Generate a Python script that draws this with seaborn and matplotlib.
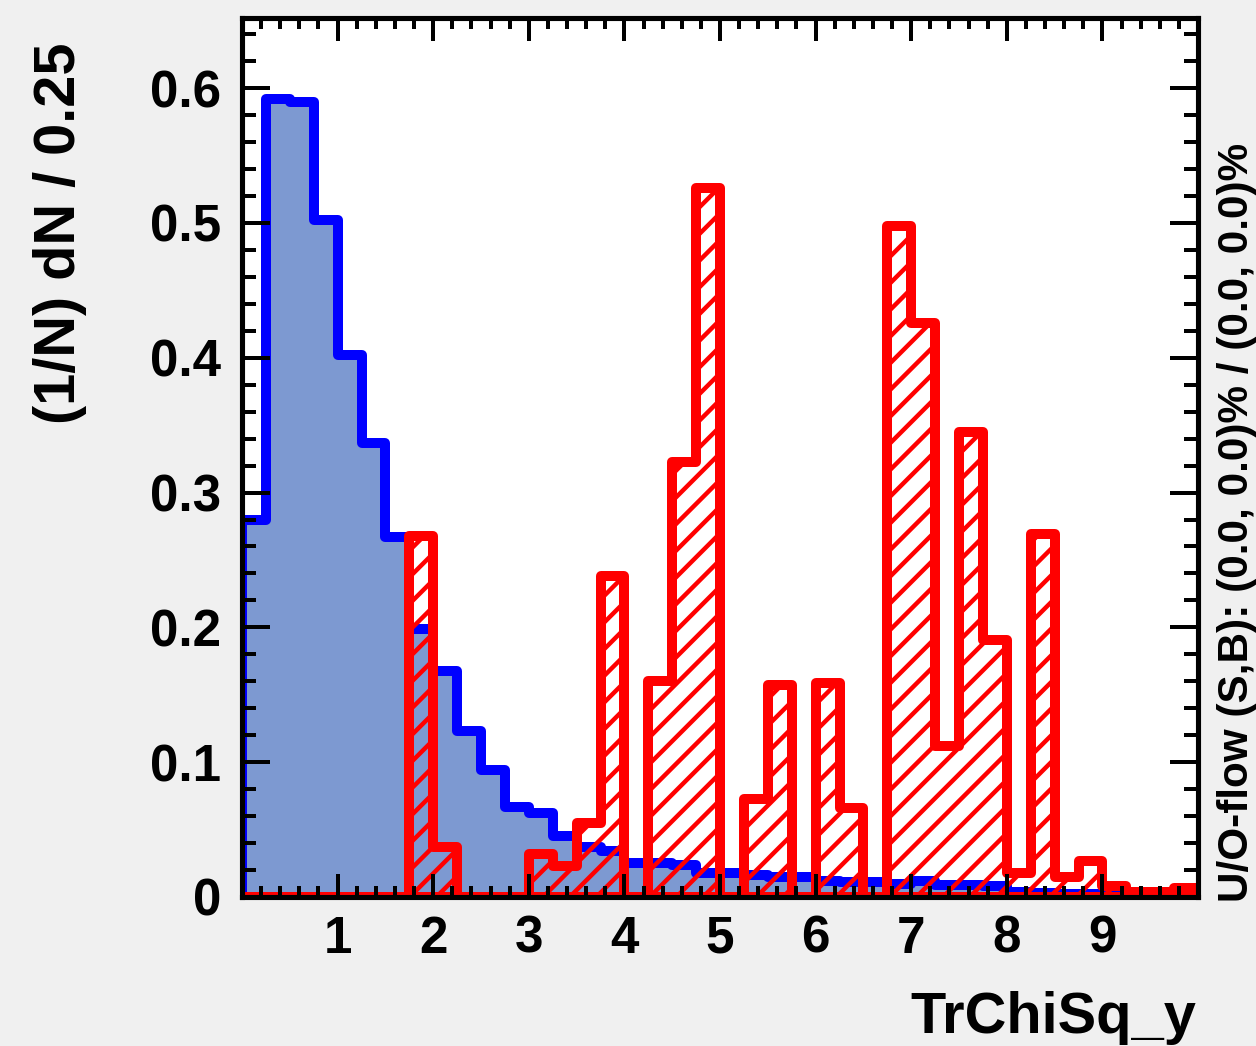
import numpy as np
import pandas as pd
import matplotlib
matplotlib.use("Agg")
import matplotlib.pyplot as plt
from matplotlib.ticker import MultipleLocator, FixedLocator, FuncFormatter
import seaborn as sns

# ---- data ----
bin_lo, bin_hi, n_bins = 0.0, 10.0, 40   # bin width 0.25
background = [0.280, 0.592, 0.590, 0.502, 0.402, 0.337, 0.267, 0.199, 0.168, 0.123,
              0.094, 0.067, 0.062, 0.045, 0.037, 0.034, 0.025, 0.025, 0.024, 0.018,
              0.018, 0.016, 0.015, 0.015, 0.012, 0.011, 0.011, 0.010, 0.012, 0.009,
              0.009, 0.008, 0.004, 0.003, 0.002, 0.002, 0.001, 0.001, 0.001, 0.001]
signal = [0.0, 0.0, 0.0, 0.0, 0.0, 0.0, 0.0, 0.268, 0.037, 0.0,
          0.0, 0.0, 0.032, 0.023, 0.055, 0.238, 0.0, 0.160, 0.323, 0.526,
          0.0, 0.073, 0.157, 0.0, 0.159, 0.066, 0.0, 0.498, 0.426, 0.112,
          0.345, 0.191, 0.018, 0.269, 0.015, 0.027, 0.008, 0.004, 0.004, 0.007]
x_ticks = [1, 2, 3, 4, 5, 6, 7, 8, 9]
y_ticks = [0.0, 0.1, 0.2, 0.3, 0.4, 0.5, 0.6]
x_title = "TrChiSq_y"
y_title = "(1/N) dN / 0.25"
flow_text = "U/O-flow (S,B): (0.0, 0.0)% / (0.0, 0.0)%"

edges = np.linspace(bin_lo, bin_hi, n_bins + 1)
centers = 0.5 * (edges[:-1] + edges[1:])
df = pd.DataFrame({"x": centers, "bkg": background, "sig": signal})

# ---- style ----
plt.rcParams['font.family'] = ['Liberation Sans', 'DejaVu Sans']
plt.rcParams['font.weight'] = 'bold'
plt.rcParams['hatch.linewidth'] = 2.0

DPI = 160
fig = plt.figure(figsize=(1256 / DPI, 1046 / DPI), dpi=DPI)
fig.patch.set_facecolor('#f0f0f0')
ax = fig.add_axes([242 / 1256, 1 - 897 / 1046, (1198 - 242) / 1256, (897 - 18) / 1046])
ax.set_facecolor('white')

sns.histplot(data=df, x="x", weights="bkg", bins=n_bins, binrange=(bin_lo, bin_hi),
             element="step", fill=True, color="#0000ff",
             facecolor="#7d99d1", edgecolor="#0000ff", linewidth=4.5, alpha=1,
             ax=ax, legend=False, zorder=1)
sns.histplot(data=df, x="x", weights="sig", bins=n_bins, binrange=(bin_lo, bin_hi),
             element="step", fill=True, color="#ff0000",
             facecolor="none", edgecolor="#ff0000", linewidth=4.5, hatch="//",
             ax=ax, legend=False, zorder=1.5)

ax.set_xlim(bin_lo, bin_hi)
ax.set_ylim(0, 0.652)
ax.set_xlabel("")
ax.set_ylabel("")

ax.xaxis.set_major_locator(FixedLocator(x_ticks))
ax.xaxis.set_minor_locator(MultipleLocator(0.2))
ax.yaxis.set_major_locator(FixedLocator(y_ticks))
ax.yaxis.set_minor_locator(MultipleLocator(0.02))
ax.yaxis.set_major_formatter(FuncFormatter(lambda v, p: f"{v:g}"))

for s in ax.spines.values():
    s.set_linewidth(2.3)
    s.set_color('black')
    s.set_zorder(3)

ax.tick_params(axis='both', which='both', direction='in', top=True, right=True,
               width=1.8, colors='black', labelsize=23)
ax.tick_params(axis='x', which='major', length=10.5, pad=8)
ax.tick_params(axis='x', which='minor', length=4.8)
ax.tick_params(axis='y', which='major', length=12.5, pad=9.5)
ax.tick_params(axis='y', which='minor', length=6.2)
for lab in ax.get_xticklabels() + ax.get_yticklabels():
    lab.set_fontweight('bold')

fig.text(1196 / 1256, 1 - 1033 / 1046, x_title, ha='right', va='baseline',
         fontsize=26, fontweight='bold')
fig.text(60 / 1256, 1 - 43 / 1046, y_title, rotation=90, ha='center', va='top',
         fontsize=26, fontweight='bold')
fig.text(1237 / 1256, 1 - 902 / 1046, flow_text, rotation=90, ha='center', va='bottom',
         fontsize=19, fontweight='bold')

fig.savefig("out.png", dpi=DPI, facecolor=fig.get_facecolor())
